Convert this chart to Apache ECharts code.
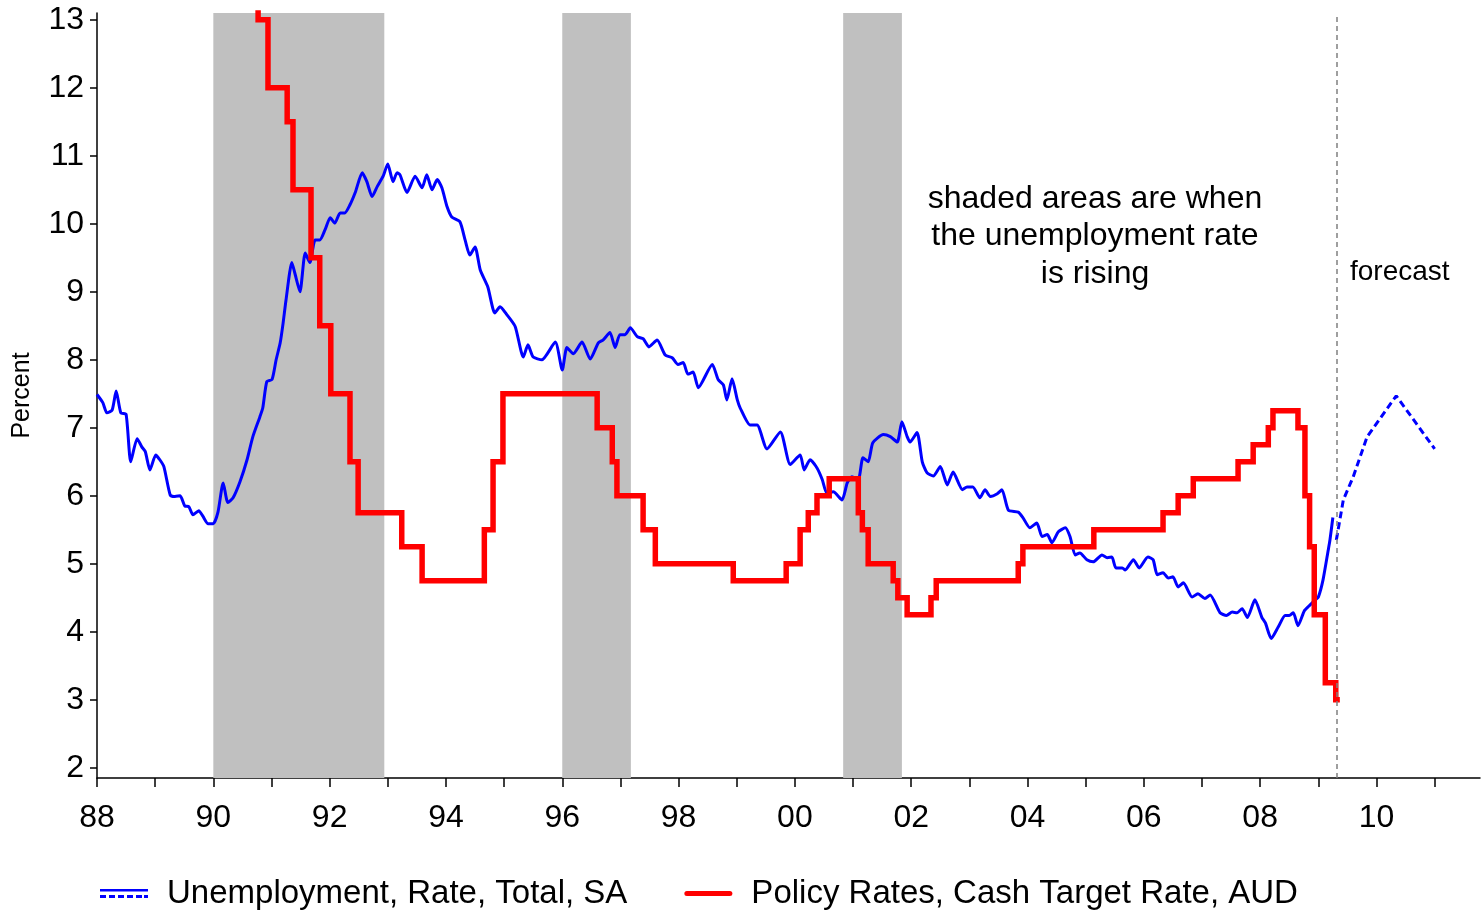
<!DOCTYPE html>
<html>
<head>
<meta charset="utf-8">
<title>Unemployment and Cash Target Rate</title>
<script src="https://cdn.jsdelivr.net/npm/echarts@6/dist/echarts.min.js"></script>
<style>
    html, body { margin: 0; padding: 0; background: #fff; }
    #chart_container { width: 1482px; height: 912px; }
</style>
</head>
<body>
<div id="chart_container"></div>
<script>
// 数据 (decimal year, percent)
const UNEMP_NAME = 'Unemployment, Rate, Total, SA';
const CASH_NAME = 'Policy Rates, Cash Target Rate, AUD';

const unemployment = [
    [1988.00, 7.49], [1988.10, 7.37], [1988.17, 7.22], [1988.26, 7.26], [1988.33, 7.54], [1988.41, 7.22],
    [1988.50, 7.20], [1988.58, 6.50], [1988.69, 6.84], [1988.77, 6.72], [1988.83, 6.65], [1988.91, 6.38],
    [1989.01, 6.60], [1989.08, 6.53], [1989.15, 6.43], [1989.26, 6.01], [1989.34, 5.99], [1989.43, 6.00],
    [1989.51, 5.85], [1989.58, 5.84], [1989.65, 5.72], [1989.75, 5.78], [1989.82, 5.70], [1989.91, 5.59],
    [1990.00, 5.59], [1990.08, 5.76], [1990.17, 6.19], [1990.25, 5.90], [1990.34, 5.97], [1990.46, 6.21],
    [1990.58, 6.53], [1990.68, 6.87], [1990.80, 7.16], [1990.85, 7.29], [1990.92, 7.68], [1991.01, 7.71],
    [1991.08, 8.00], [1991.15, 8.25], [1991.20, 8.54], [1991.25, 8.88], [1991.35, 9.43], [1991.40, 9.28],
    [1991.49, 9.00], [1991.58, 9.57], [1991.66, 9.43], [1991.75, 9.76], [1991.83, 9.76], [1991.92, 9.91],
    [1992.01, 10.09], [1992.09, 10.01], [1992.18, 10.16], [1992.26, 10.16], [1992.35, 10.28], [1992.44, 10.46],
    [1992.56, 10.75], [1992.64, 10.62], [1992.73, 10.40], [1992.82, 10.55], [1992.92, 10.70], [1993.00, 10.88],
    [1993.09, 10.62], [1993.16, 10.75], [1993.21, 10.72], [1993.33, 10.46], [1993.47, 10.70], [1993.59, 10.53],
    [1993.67, 10.72], [1993.76, 10.50], [1993.85, 10.65], [1993.93, 10.53], [1994.02, 10.25], [1994.10, 10.10],
    [1994.24, 10.03], [1994.33, 9.76], [1994.41, 9.54], [1994.50, 9.66], [1994.59, 9.32], [1994.72, 9.07],
    [1994.84, 8.69], [1994.93, 8.78], [1995.05, 8.66], [1995.19, 8.49], [1995.33, 8.04], [1995.41, 8.22],
    [1995.50, 8.04], [1995.65, 8.00], [1995.88, 8.26], [1996.00, 7.85], [1996.08, 8.18], [1996.19, 8.09],
    [1996.34, 8.26], [1996.48, 8.01], [1996.62, 8.25], [1996.70, 8.29], [1996.82, 8.40], [1996.91, 8.18],
    [1996.99, 8.37], [1997.08, 8.37], [1997.17, 8.47], [1997.29, 8.34], [1997.39, 8.31], [1997.49, 8.19],
    [1997.63, 8.29], [1997.77, 8.07], [1997.89, 8.03], [1997.99, 7.93], [1998.08, 7.96], [1998.16, 7.79],
    [1998.25, 7.82], [1998.34, 7.59], [1998.58, 7.93], [1998.68, 7.71], [1998.77, 7.63], [1998.83, 7.41],
    [1998.92, 7.72], [1999.01, 7.41], [1999.06, 7.29], [1999.23, 7.04], [1999.35, 7.04], [1999.52, 6.69],
    [1999.75, 6.94], [1999.92, 6.46], [2000.09, 6.60], [2000.16, 6.38], [2000.26, 6.53], [2000.38, 6.41],
    [2000.47, 6.24], [2000.55, 6.04], [2000.66, 6.06], [2000.81, 5.94], [2000.90, 6.19], [2000.98, 6.28],
    [2001.09, 6.24], [2001.17, 6.56], [2001.26, 6.50], [2001.34, 6.78], [2001.52, 6.90], [2001.64, 6.87],
    [2001.76, 6.79], [2001.84, 7.09], [2001.93, 6.87], [2001.98, 6.79], [2002.10, 6.93], [2002.19, 6.50],
    [2002.27, 6.34], [2002.38, 6.29], [2002.50, 6.43], [2002.62, 6.16], [2002.72, 6.35], [2002.88, 6.09],
    [2002.96, 6.13], [2003.06, 6.13], [2003.18, 5.97], [2003.27, 6.09], [2003.36, 5.99], [2003.48, 6.03],
    [2003.56, 6.09], [2003.67, 5.79], [2003.84, 5.76], [2003.92, 5.68], [2004.04, 5.53], [2004.16, 5.60],
    [2004.25, 5.40], [2004.34, 5.43], [2004.42, 5.31], [2004.53, 5.47], [2004.65, 5.53], [2004.73, 5.40],
    [2004.82, 5.13], [2004.90, 5.16], [2005.02, 5.06], [2005.13, 5.03], [2005.28, 5.13], [2005.37, 5.09],
    [2005.45, 5.10], [2005.52, 4.94], [2005.63, 4.94], [2005.68, 4.91], [2005.82, 5.06], [2005.92, 4.94],
    [2006.07, 5.10], [2006.16, 5.06], [2006.23, 4.84], [2006.33, 4.87], [2006.42, 4.79], [2006.50, 4.81],
    [2006.59, 4.66], [2006.68, 4.72], [2006.83, 4.51], [2006.93, 4.56], [2007.05, 4.49], [2007.14, 4.54],
    [2007.31, 4.28], [2007.42, 4.24], [2007.52, 4.29], [2007.60, 4.28], [2007.69, 4.34], [2007.78, 4.21],
    [2007.91, 4.47], [2008.03, 4.21], [2008.09, 4.13], [2008.19, 3.90], [2008.31, 4.07], [2008.43, 4.24],
    [2008.50, 4.24], [2008.57, 4.28], [2008.65, 4.09], [2008.76, 4.31], [2008.84, 4.38], [2008.95, 4.47],
    [2009.00, 4.51], [2009.08, 4.76], [2009.17, 5.20], [2009.20, 5.35], [2009.25, 5.68]
];

const unemploymentForecast = [
    [2009.31, 5.35], [2009.43, 5.94], [2009.60, 6.28], [2009.84, 6.87], [2010.34, 7.47], [2011.00, 6.69]
];

// cash rate: value holds from date until next change
const cashRate = [
    [1990.00, 17.5], [1990.12, 16.75], [1990.29, 15.25], [1990.60, 14.0], [1990.77, 13.0], [1990.94, 12.0],
    [1991.27, 11.5], [1991.37, 10.5], [1991.68, 9.5], [1991.83, 8.5], [1992.02, 7.5], [1992.35, 6.5],
    [1992.49, 5.75], [1993.24, 5.25], [1993.59, 4.75], [1994.66, 5.5], [1994.81, 6.5], [1994.98, 7.5],
    [1996.60, 7.0], [1996.86, 6.5], [1996.94, 6.0], [1997.39, 5.5], [1997.60, 5.0], [1998.94, 4.75],
    [1999.85, 5.0], [2000.09, 5.5], [2000.23, 5.75], [2000.38, 6.0], [2000.59, 6.25], [2001.09, 5.75],
    [2001.16, 5.5], [2001.26, 5.0], [2001.69, 4.75], [2001.77, 4.5], [2001.93, 4.25], [2002.34, 4.5],
    [2002.43, 4.75], [2003.84, 5.0], [2003.92, 5.25], [2005.14, 5.5], [2006.33, 5.75], [2006.59, 6.0],
    [2006.85, 6.25], [2007.62, 6.5], [2007.88, 6.75], [2008.14, 7.0], [2008.22, 7.25], [2008.65, 7.0],
    [2008.77, 6.0], [2008.85, 5.25], [2008.93, 4.25], [2009.12, 3.25], [2009.30, 3.0], [2009.37, 3.0]
];

const shadedPeriods = [[1990.0, 1992.94], [1996.0, 1997.18], [2000.83, 2001.84]];
const forecastStart = 2009.31;

const xTickYears = [1988, 1989, 1990, 1991, 1992, 1993, 1994, 1995, 1996, 1997, 1998, 1999,
    2000, 2001, 2002, 2003, 2004, 2005, 2006, 2007, 2008, 2009, 2010, 2011];
const xLabelYears = [1988, 1990, 1992, 1994, 1996, 1998, 2000, 2002, 2004, 2006, 2008, 2010];
const yTicks = [2, 3, 4, 5, 6, 7, 8, 9, 10, 11, 12, 13];

const FONT = '"Liberation Sans", Arial, sans-serif';

//方法
const _METHODS = {
    initChart() {
        const option = {
            animation: false,
            backgroundColor: '#fff',
            grid: {left: 97, right: 2, top: 13, bottom: 134},
            legend: {
                left: 100,
                top: 877,
                padding: 0,
                itemWidth: 48,
                itemHeight: 9,
                itemGap: 57,
                selectedMode: false,
                textStyle: {fontSize: 33, color: '#000', fontFamily: FONT, padding: [0, 0, 0, 14]},
                data: [
                    {
                        name: UNEMP_NAME,
                        icon: 'path://M0,0h48v2.5h-48z M0,6h6v3h-6z M9,6h6v3h-6z M18,6h6v3h-6z M27,6h6v3h-6z M36,6h6v3h-6z M44,6h4v3h-4z',
                        itemStyle: {color: '#0000ff', borderWidth: 0}
                    },
                    {
                        name: CASH_NAME,
                        icon: 'path://M2.5,0h43a2.5,2.5 0 0 1 0,5h-43a2.5,2.5 0 0 1 0,-5z',
                        itemStyle: {color: '#ff0000', borderWidth: 0}
                    }
                ]
            },
            xAxis: {
                type: 'value',
                min: 1988,
                max: 2011.78,
                axisLine: {lineStyle: {color: '#000', width: 1.5}},
                axisTick: {show: true, length: 9, lineStyle: {color: '#000', width: 1.5}, customValues: xTickYears},
                axisLabel: {
                    customValues: xLabelYears,
                    margin: 24,
                    fontSize: 32,
                    color: '#000',
                    fontFamily: FONT,
                    formatter: v => String(Math.round(v) % 100).padStart(2, '0')
                },
                splitLine: {show: false}
            },
            yAxis: {
                type: 'value',
                min: 1.85,
                max: 13.1,
                name: 'Percent',
                nameLocation: 'middle',
                nameRotate: 90,
                nameGap: 62,
                nameTextStyle: {fontSize: 25, color: '#000', fontFamily: FONT},
                axisLine: {show: true, lineStyle: {color: '#000', width: 1.5}},
                axisTick: {show: true, length: 7, lineStyle: {color: '#000', width: 1.5}, customValues: yTicks},
                axisLabel: {
                    customValues: yTicks,
                    margin: 13,
                    fontSize: 32,
                    color: '#000',
                    fontFamily: FONT
                },
                splitLine: {show: false}
            },
            graphic: [
                {
                    type: 'text',
                    x: 1095,
                    y: 180,
                    style: {
                        text: 'shaded areas are when\nthe unemployment rate\nis rising',
                        font: '32px ' + FONT,
                        fill: '#000',
                        align: 'center',
                        verticalAlign: 'top',
                        lineHeight: 37.5
                    }
                },
                {
                    type: 'text',
                    x: 1350,
                    y: 258,
                    style: {text: 'forecast', font: '28px ' + FONT, fill: '#000', verticalAlign: 'top'}
                }
            ],
            series: [
                {
                    name: 'shade',
                    type: 'line',
                    data: [],
                    z: 1,
                    silent: true,
                    markArea: {
                        silent: true,
                        itemStyle: {color: '#c0c0c0', opacity: 1},
                        label: {show: false},
                        data: shadedPeriods.map(p => [{xAxis: p[0]}, {xAxis: p[1]}])
                    },
                    markLine: {
                        silent: true,
                        symbol: ['none', 'none'],
                        label: {show: false},
                        lineStyle: {color: '#808080', type: [5, 4], width: 1.5},
                        data: [{xAxis: forecastStart}]
                    }
                },
                {
                    name: UNEMP_NAME,
                    type: 'line',
                    data: unemployment,
                    symbol: 'none',
                    smooth: 0.2,
                    z: 3,
                    itemStyle: {color: '#0000ff'},
                    lineStyle: {color: '#0000ff', width: 3}
                },
                {
                    name: UNEMP_NAME,
                    type: 'line',
                    data: unemploymentForecast,
                    symbol: 'none',
                    z: 3,
                    itemStyle: {color: '#0000ff'},
                    lineStyle: {color: '#0000ff', width: 3, type: [7, 4]}
                },
                {
                    name: CASH_NAME,
                    type: 'line',
                    step: 'end',
                    data: cashRate,
                    symbol: 'none',
                    z: 4,
                    itemStyle: {color: '#ff0000'},
                    lineStyle: {color: '#ff0000', width: 5.5, join: 'miter'}
                }
            ]
        };
        let myChart = echarts.init(document.querySelector('#chart_container'));
        myChart.setOption(option);
    }
};

function start() {
    _METHODS.initChart();
}

start();
</script>
</body>
</html>
